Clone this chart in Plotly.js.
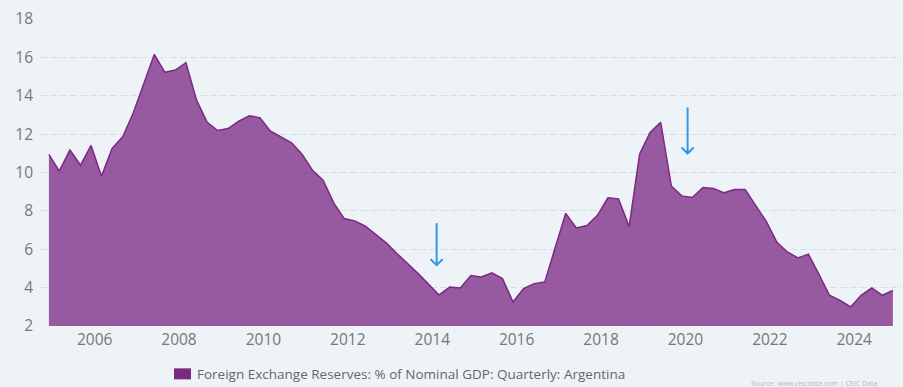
<!DOCTYPE html>
<html>
<head>
<meta charset="utf-8">
<script src="https://cdn.plot.ly/plotly-3.0.1.min.js"></script>
<style>
  html, body { margin: 0; padding: 0; background: #eef3f8; }
  #chart { width: 903px; height: 387px; }
</style>
</head>
<body>
<div id="chart"></div>
<script>
// Quarterly dates (quarter-end month), Dec 2004 .. Dec 2024
const quarters = [
  '2004-12','2005-03','2005-06','2005-09','2005-12','2006-03','2006-06','2006-09','2006-12',
  '2007-03','2007-06','2007-09','2007-12','2008-03','2008-06','2008-09','2008-12',
  '2009-03','2009-06','2009-09','2009-12','2010-03','2010-06','2010-09','2010-12',
  '2011-03','2011-06','2011-09','2011-12','2012-03','2012-06','2012-09','2012-12',
  '2013-03','2013-06','2013-09','2013-12','2014-03','2014-06','2014-09','2014-12',
  '2015-03','2015-06','2015-09','2015-12','2016-03','2016-06','2016-09','2016-12',
  '2017-03','2017-06','2017-09','2017-12','2018-03','2018-06','2018-09','2018-12',
  '2019-03','2019-06','2019-09','2019-12','2020-03','2020-06','2020-09','2020-12',
  '2021-03','2021-06','2021-09','2021-12','2022-03','2022-06','2022-09','2022-12',
  '2023-03','2023-06','2023-09','2023-12','2024-03','2024-06','2024-09','2024-12'
];

// Foreign Exchange Reserves: % of Nominal GDP (Argentina)
const reservesPctGDP = [
  10.94, 10.07, 11.17, 10.38, 11.41, 9.80, 11.25, 11.86, 13.10,
  14.60, 16.15, 15.22, 15.34, 15.72, 13.77, 12.62, 12.19,
  12.29, 12.68, 12.95, 12.86, 12.17, 11.88, 11.55, 10.95,
  10.12, 9.60, 8.42, 7.60, 7.47, 7.20, 6.75, 6.32,
  5.78, 5.26, 4.73, 4.17, 3.62, 4.03, 3.98, 4.63,
  4.55, 4.77, 4.47, 3.25, 3.95, 4.21, 4.30, 6.10,
  7.86, 7.11, 7.24, 7.77, 8.68, 8.62, 7.18, 10.96,
  12.09, 12.61, 9.30, 8.78, 8.70, 9.22, 9.17, 8.94,
  9.11, 9.11, 8.24, 7.45, 6.38, 5.86, 5.55, 5.74,
  4.70, 3.60, 3.34, 2.99, 3.60, 3.98, 3.60, 3.86
];

const yTicks = [2, 4, 6, 8, 10, 12, 14, 16, 18];
const xTickYears = ['2006','2008','2010','2012','2014','2016','2018','2020','2022','2024'];

const seriesName = 'Foreign Exchange Reserves: % of Nominal GDP: Quarterly: Argentina';
const sourceText = 'Source: www.ceicdata.com | CEIC Data';

// Arrow markers (data positions of arrow tips)
const arrowX = ['2014-02-08', '2020-01-20'];
const arrowY = [5.17, 10.99];
const arrowLen = [42, 46];

const seriesColor = '#7b2a83';
const arrowColor = '#3497e4';
const fontFam = '"Open Sans", "DejaVu Sans", sans-serif';

const trace = {
  x: quarters,
  y: reservesPctGDP,
  type: 'scatter',
  mode: 'lines',
  fill: 'tozeroy',
  fillcolor: 'rgba(123,42,131,0.76)',
  line: { color: seriesColor, width: 1.5 },
  name: seriesName,
  showlegend: false,
  hoverinfo: 'x+y'
};

const shapes = [];
arrowX.forEach((ax, i) => {
  shapes.push({
    type: 'path',
    xref: 'x', yref: 'y',
    xsizemode: 'pixel', ysizemode: 'pixel',
    xanchor: ax, yanchor: arrowY[i],
    path: 'M0,0 L0,' + arrowLen[i] + ' M-6,6 L0,0 L6,6',
    line: { color: arrowColor, width: 2 },
    layer: 'above'
  });
});
// legend swatch
shapes.push({
  type: 'rect', xref: 'paper', yref: 'paper',
  x0: 0.1556, x1: 0.1754, y0: -0.1738, y1: -0.1379,
  fillcolor: seriesColor, line: { width: 0 }
});

const layout = {
  width: 903,
  height: 387,
  margin: { l: 40, r: 2, t: 19, b: 61.3 },
  paper_bgcolor: '#eef3f8',
  plot_bgcolor: '#eef3f8',
  font: { family: fontFam, color: '#666' },
  xaxis: {
    type: 'date',
    range: ['2004-09-15', '2025-02-09'],
    tickvals: xTickYears.map(y => y + '-01-01'),
    ticktext: xTickYears,
    showgrid: false,
    zeroline: false,
    showline: false,
    ticks: '',
    ticklabelstandoff: 2,
    tickfont: { size: 15.5, color: '#777', family: fontFam },
    fixedrange: true
  },
  yaxis: {
    range: [2, 18],
    tickvals: yTicks,
    showgrid: true,
    gridcolor: '#d9dee4',
    gridwidth: 1,
    griddash: '7px,3px',
    zeroline: false,
    showline: false,
    ticks: '',
    ticklabelstandoff: 6,
    tickfont: { size: 15.5, color: '#777', family: fontFam },
    fixedrange: true
  },
  shapes: shapes,
  annotations: [
    {
      xref: 'paper', yref: 'paper', x: 0.18, y: -0.1575,
      xanchor: 'left', yanchor: 'middle',
      text: seriesName, showarrow: false,
      font: { size: 13.5, color: '#666', family: fontFam }
    },
    {
      xref: 'paper', yref: 'paper', x: 0.9756, y: -0.165,
      xanchor: 'right', yanchor: 'top',
      text: sourceText, showarrow: false,
      font: { size: 7, color: '#b5b9bf', family: fontFam }
    }
  ]
};

Plotly.newPlot('chart', [trace], layout, { displayModeBar: false, staticPlot: true });
</script>
</body>
</html>
